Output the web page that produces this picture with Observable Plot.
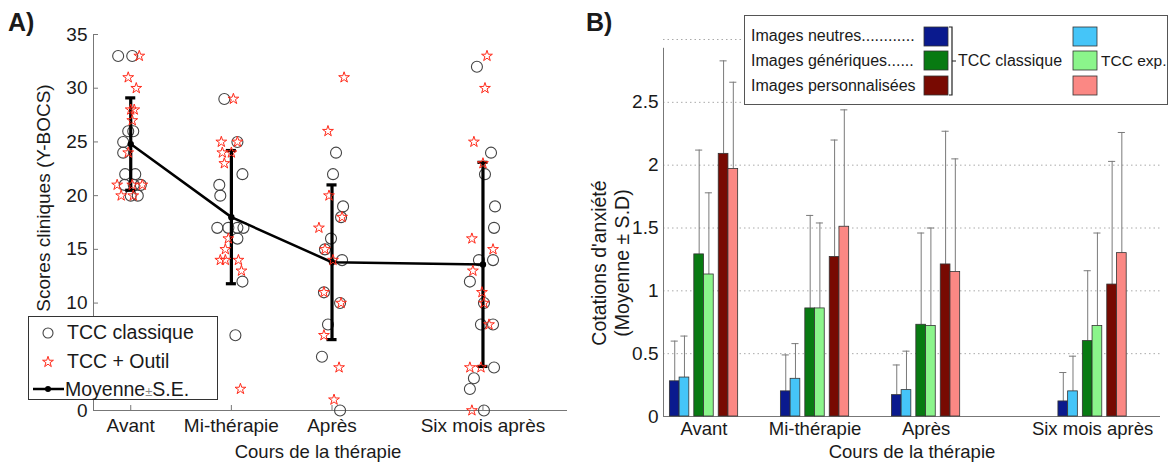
<!DOCTYPE html>
<html>
<head>
<meta charset="utf-8">
<script src="https://cdn.jsdelivr.net/npm/d3@7"></script>
<script src="https://cdn.jsdelivr.net/npm/@observablehq/plot@0.6"></script>
<style>
  body { margin: 0; background: #fff; }
  #wrap { position: relative; width: 1170px; height: 465px; font-family: "Liberation Sans", Arial, sans-serif; color: #1a1a1a; overflow: hidden; }
  .abs { position: absolute; white-space: nowrap; }
  .panel { position: absolute; top: 0; }
  .rot { transform: translate(-50%, -50%) rotate(-90deg); }
  .ctr { transform: translate(-50%, -50%); }
  #legA { left: 28px; top: 316px; width: 190px; height: 84px; border: 1px solid #333; background: #fff; box-sizing: border-box; }
  #legB { left: 744px; top: 15px; width: 424px; height: 90px; border: 1px solid #555; background: #fff; box-sizing: border-box; }
</style>
</head>
<body>
<div id="wrap">
  <div id="left" class="panel" style="left:0"></div>
  <div id="right" class="panel" style="left:580px"></div>

  <div class="abs" style="left:8px;top:8px;font-size:25px;font-weight:bold;">A)</div>
  <div class="abs" style="left:586px;top:8px;font-size:25px;font-weight:bold;">B)</div>

  <div class="abs rot" style="left:44px;top:198px;font-size:19px;">Scores cliniques (Y-BOCS)</div>
  <div class="abs ctr" style="left:318px;top:452px;font-size:18.5px;">Cours de la thérapie</div>

  <div class="abs rot" style="left:599px;top:263px;font-size:19.5px;">Cotations d'anxiété</div>
  <div class="abs rot" style="left:622px;top:263px;font-size:19.5px;">(Moyenne ± S.D)</div>
  <div class="abs ctr" style="left:912px;top:452px;font-size:18.5px;">Cours de la thérapie</div>

  <div id="legA" class="abs">
    <svg width="190" height="84" style="position:absolute;left:0;top:0">
      <circle cx="19" cy="16" r="5" fill="none" stroke="#444" stroke-width="1.1"></circle>
      <path id="legStar" transform="translate(19,45)" fill="none" stroke="#ff2a1a" stroke-width="1"></path>
      <line x1="4" x2="35" y1="72" y2="72" stroke="#000" stroke-width="2.5"></line>
      <circle cx="19" cy="72" r="3" fill="#000"></circle>
    </svg>
    <div class="abs" style="left:38px;top:4px;font-size:19.5px;">TCC classique</div>
    <div class="abs" style="left:38px;top:33px;font-size:19.5px;">TCC + Outil</div>
    <div class="abs" style="left:36px;top:61px;font-size:19.5px;">Moyenne<span style="color:#888;font-size:13px;">±</span>S.E.</div>
  </div>

  <div id="legB" class="abs">
    <div class="abs" style="left:6px;top:11px;font-size:16px;">Images neutres............</div>
    <div class="abs" style="left:6px;top:36px;font-size:16px;">Images génériques......</div>
    <div class="abs" style="left:6px;top:61px;font-size:16px;">Images personnalisées</div>
    <div class="abs" style="left:213px;top:36px;font-size:16px;">TCC classique</div>
    <div class="abs" style="left:356px;top:36px;font-size:15.5px;">TCC exp.</div>
    <svg id="legBsvg" width="424" height="90" style="position:absolute;left:-1px;top:-1px"></svg>
  </div>
</div>
<script>
// ---------- Shared categories ----------
const categories = ["Avant", "Mi-thérapie", "Après", "Six mois après"];
const catPos = [1, 2, 3, 4.5];

// ---------- Panel A: individual Y-BOCS scores (value) and horizontal jitter (dx) ----------
const classiqueAvant   = [33, 33, 26, 26, 25, 24, 22, 22, 21, 21, 21, 20, 20];
const classiqueAvantDx = [-0.125, 0.015, -0.025, 0.025, -0.075, -0.075, -0.055, 0.045, -0.06, 0.03, 0.1, 0.0, 0.07];
const outilAvant       = [33, 31, 30, 28, 28, 27, 24, 21, 21, 21, 20, 20];
const outilAvantDx     = [0.085, -0.025, 0.055, 0.0, 0.035, 0.015, -0.025, -0.135, 0.015, 0.115, -0.095, 0.025];

const classiqueMi   = [29, 25, 22, 21, 20, 17, 17, 17, 17, 16, 12, 7];
const classiqueMiDx = [-0.07, 0.06, 0.11, -0.12, -0.11, -0.14, -0.03, 0.06, 0.12, 0.06, 0.11, 0.04];
const outilMi       = [29, 25, 25, 24, 24, 23, 16, 15, 14, 14, 14, 13, 2];
const outilMiDx     = [0.02, -0.1, 0.06, -0.09, 0.0, -0.07, -0.03, -0.06, -0.11, -0.06, 0.07, 0.1, 0.09];

const classiqueApres   = [24, 22, 19, 18, 16, 15, 14, 11, 10, 8, 5, 0];
const classiqueApresDx = [0.04, 0.01, 0.11, 0.09, -0.01, -0.07, 0.1, -0.08, 0.08, -0.04, -0.1, 0.08];
const outilApres       = [31, 26, 20, 18, 17, 15, 14, 11, 10, 7, 4, 1];
const outilApresDx     = [0.12, -0.04, -0.03, 0.1, -0.13, -0.07, 0.01, -0.08, 0.09, -0.08, 0.07, 0.02];

const classiqueSix   = [32, 24, 22, 19, 17, 14, 14, 12, 10, 8, 8, 4, 3, 2, 0];
const classiqueSixDx = [-0.06, 0.08, 0.02, 0.12, 0.11, -0.04, 0.1, -0.13, 0.01, -0.02, 0.1, 0.11, -0.09, -0.13, 0.01];
const outilSix       = [33, 30, 25, 23, 16, 15, 13, 11, 10, 8, 4, 4, 0];
const outilSixDx     = [0.04, 0.02, -0.09, 0.0, -0.11, 0.1, -0.1, -0.01, 0.01, 0.06, -0.13, -0.02, -0.11];

const meanScores = [24.8, 18.0, 13.8, 13.6];
const seScores   = [4.3, 6.2, 7.2, 9.5];
const yTicksA    = [0, 5, 10, 15, 20, 25, 30, 35];
const yLabelsA   = [0, 10, 15, 20, 25, 30, 35]; // "5" is hidden behind the legend in the reference

// ---------- Panel B: anxiety ratings (mean, SD) ----------
const seriesNames = ["Neutres classique", "Neutres exp.", "Génériques classique", "Génériques exp.", "Personnalisées classique", "Personnalisées exp."];
const seriesColors = ["#0a1a8e", "#45c5f8", "#087a12", "#8bf58b", "#780a02", "#fb8884"];
const neutresClassique     = [0.28, 0.20, 0.17, 0.12];
const neutresClassiqueSD   = [0.32, 0.29, 0.24, 0.23];
const neutresExp           = [0.31, 0.30, 0.21, 0.20];
const neutresExpSD         = [0.33, 0.28, 0.31, 0.28];
const generiquesClassique  = [1.29, 0.86, 0.73, 0.60];
const generiquesClassiqueSD= [0.83, 0.74, 0.73, 0.56];
const generiquesExp        = [1.13, 0.86, 0.72, 0.72];
const generiquesExpSD      = [0.65, 0.68, 0.78, 0.74];
const persoClassique       = [2.09, 1.27, 1.21, 1.05];
const persoClassiqueSD     = [0.74, 0.93, 1.06, 0.98];
const persoExp             = [1.97, 1.51, 1.15, 1.30];
const persoExpSD           = [0.69, 0.93, 0.90, 0.96];
const yTicksB = [0, 0.5, 1, 1.5, 2, 2.5];
const gridB   = [0.5, 1, 1.5, 2, 2.5, 3];

// ---------- Build tables ----------
function pts(vals, dxs, ci) { return vals.map((v, i) => ({x: catPos[ci] + dxs[i], y: v})); }
const circles = [
  ...pts(classiqueAvant, classiqueAvantDx, 0), ...pts(classiqueMi, classiqueMiDx, 1),
  ...pts(classiqueApres, classiqueApresDx, 2), ...pts(classiqueSix, classiqueSixDx, 3)];
const stars = [
  ...pts(outilAvant, outilAvantDx, 0), ...pts(outilMi, outilMiDx, 1),
  ...pts(outilApres, outilApresDx, 2), ...pts(outilSix, outilSixDx, 3)];
const means = meanScores.map((m, i) => ({x: catPos[i], m, lo: m - seScores[i], hi: m + seScores[i]}));

const capA = 0.05;
const labelFor = new Map(catPos.map((p, i) => [p, categories[i]]));

const plotA = Plot.plot({
  width: 580, height: 465,
  marginLeft: 93, marginRight: 13, marginTop: 34, marginBottom: 55,
  style: {fontFamily: "Liberation Sans, Arial, sans-serif", fontSize: "19px", color: "#1a1a1a", background: "transparent"},
  x: {domain: [0.63, 5.34]},
  y: {domain: [0, 35]},
  marks: [
    Plot.ruleX([0.63], {stroke: "#777"}),
    Plot.ruleY([0], {stroke: "#777"}),
    Plot.axisY(yTicksA, {tickSize: -5, text: null, stroke: "#777", label: null}),
    Plot.axisY(yLabelsA, {tickSize: 0, tickPadding: 6, label: null, fontSize: 19}),
    Plot.axisX(catPos, {tickSize: -5, tickPadding: 13, stroke: "#777", label: null, fontSize: 19, tickFormat: d => labelFor.get(d)}),
    Plot.dot(circles, {x: "x", y: "y", r: 5.5, stroke: "#444", strokeWidth: 1.1, fill: "none"}),
    Plot.line(means, {x: "x", y: "m", stroke: "#000", strokeWidth: 2.5}),
    Plot.ruleX(means, {x: "x", y1: "lo", y2: "hi", stroke: "#000", strokeWidth: 3.2}),
    Plot.ruleY(means, {y: "hi", x1: d => d.x - capA, x2: d => d.x + capA, stroke: "#000", strokeWidth: 3.2}),
    Plot.ruleY(means, {y: "lo", x1: d => d.x - capA, x2: d => d.x + capA, stroke: "#000", strokeWidth: 3.2}),
    Plot.dot(means, {x: "x", y: "m", r: 3.2, fill: "#000"}),
    Plot.dot(stars, {x: "x", y: "y", r: 3.4, symbol: "star", stroke: "#ff2a1a", strokeWidth: 1, fill: "none"})
  ]
});
document.getElementById("left").appendChild(plotA);

// Panel B table
const seriesMeans = [neutresClassique, neutresExp, generiquesClassique, generiquesExp, persoClassique, persoExp];
const seriesSDs = [neutresClassiqueSD, neutresExpSD, generiquesClassiqueSD, generiquesExpSD, persoClassiqueSD, persoExpSD];
const barW = 0.0875, pairGap = 0.045;
const groupW = 3 * 2 * barW + 2 * pairGap;
const bars = [];
categories.forEach((c, ci) => {
  seriesMeans.forEach((arr, s) => {
    const p = Math.floor(s / 2), m = s % 2;
    const x1 = catPos[ci] - groupW / 2 + p * (2 * barW + pairGap) + m * barW;
    bars.push({cat: c, series: seriesNames[s], x1, x2: x1 + barW, xc: x1 + barW / 2, v: arr[ci], top: arr[ci] + seriesSDs[s][ci]});
  });
});
const capB = 0.032;

const plotB = Plot.plot({
  width: 590, height: 465,
  marginLeft: 83, marginRight: 10, marginTop: 39, marginBottom: 49,
  style: {fontFamily: "Liberation Sans, Arial, sans-serif", fontSize: "18px", color: "#1a1a1a", background: "transparent"},
  x: {domain: [0.635, 5.112]},
  y: {domain: [0, 3]},
  color: {domain: seriesNames, range: seriesColors},
  marks: [
    Plot.ruleY(gridB, {stroke: "#aaa", strokeDasharray: "1.5,3", strokeWidth: 1}),
    Plot.ruleX([0.635], {y1: 0, y2: 2.93, stroke: "#777"}),
    Plot.ruleY([0], {stroke: "#777"}),
    Plot.axisY(yTicksB, {tickSize: 0, tickPadding: 5, label: null, fontSize: 19, tickFormat: d => String(d)}),
    Plot.axisX(catPos, {tickSize: 0, tickPadding: 5, label: null, fontSize: 18.5, tickFormat: d => labelFor.get(d)}),
    Plot.ruleX(bars, {x: "xc", y1: "v", y2: "top", stroke: "#7a7a7a", strokeWidth: 1}),
    Plot.ruleY(bars, {y: "top", x1: d => d.xc - capB, x2: d => d.xc + capB, stroke: "#7a7a7a", strokeWidth: 1}),
    Plot.rectY(bars, {x1: "x1", x2: "x2", y1: 0, y2: "v", fill: "series", stroke: "#333", strokeWidth: 0.8})
  ]
});
document.getElementById("right").appendChild(plotB);

// Legend A star glyph
document.getElementById("legStar").setAttribute("d", d3.symbol(d3.symbolStar, Math.PI * 3.4 * 3.4)());

// Legend B swatches and bracket
const lsvg = d3.select("#legBsvg");
const rowsY = [12, 36, 61];
const rowH = 19;
[0, 2, 4].forEach((s, r) => {
  lsvg.append("rect").attr("x", 180).attr("y", rowsY[r]).attr("width", 24).attr("height", rowH)
    .attr("fill", seriesColors[s]).attr("stroke", "#333").attr("stroke-width", 0.8);
  lsvg.append("rect").attr("x", 329).attr("y", rowsY[r]).attr("width", 24).attr("height", rowH)
    .attr("fill", seriesColors[s + 1]).attr("stroke", "#333").attr("stroke-width", 0.8);
});
lsvg.append("path").attr("d", "M205,12 H208 V80 H205 M208,46 H212").attr("fill", "none").attr("stroke", "#222").attr("stroke-width", 1.2);
</script>
</body>
</html>
